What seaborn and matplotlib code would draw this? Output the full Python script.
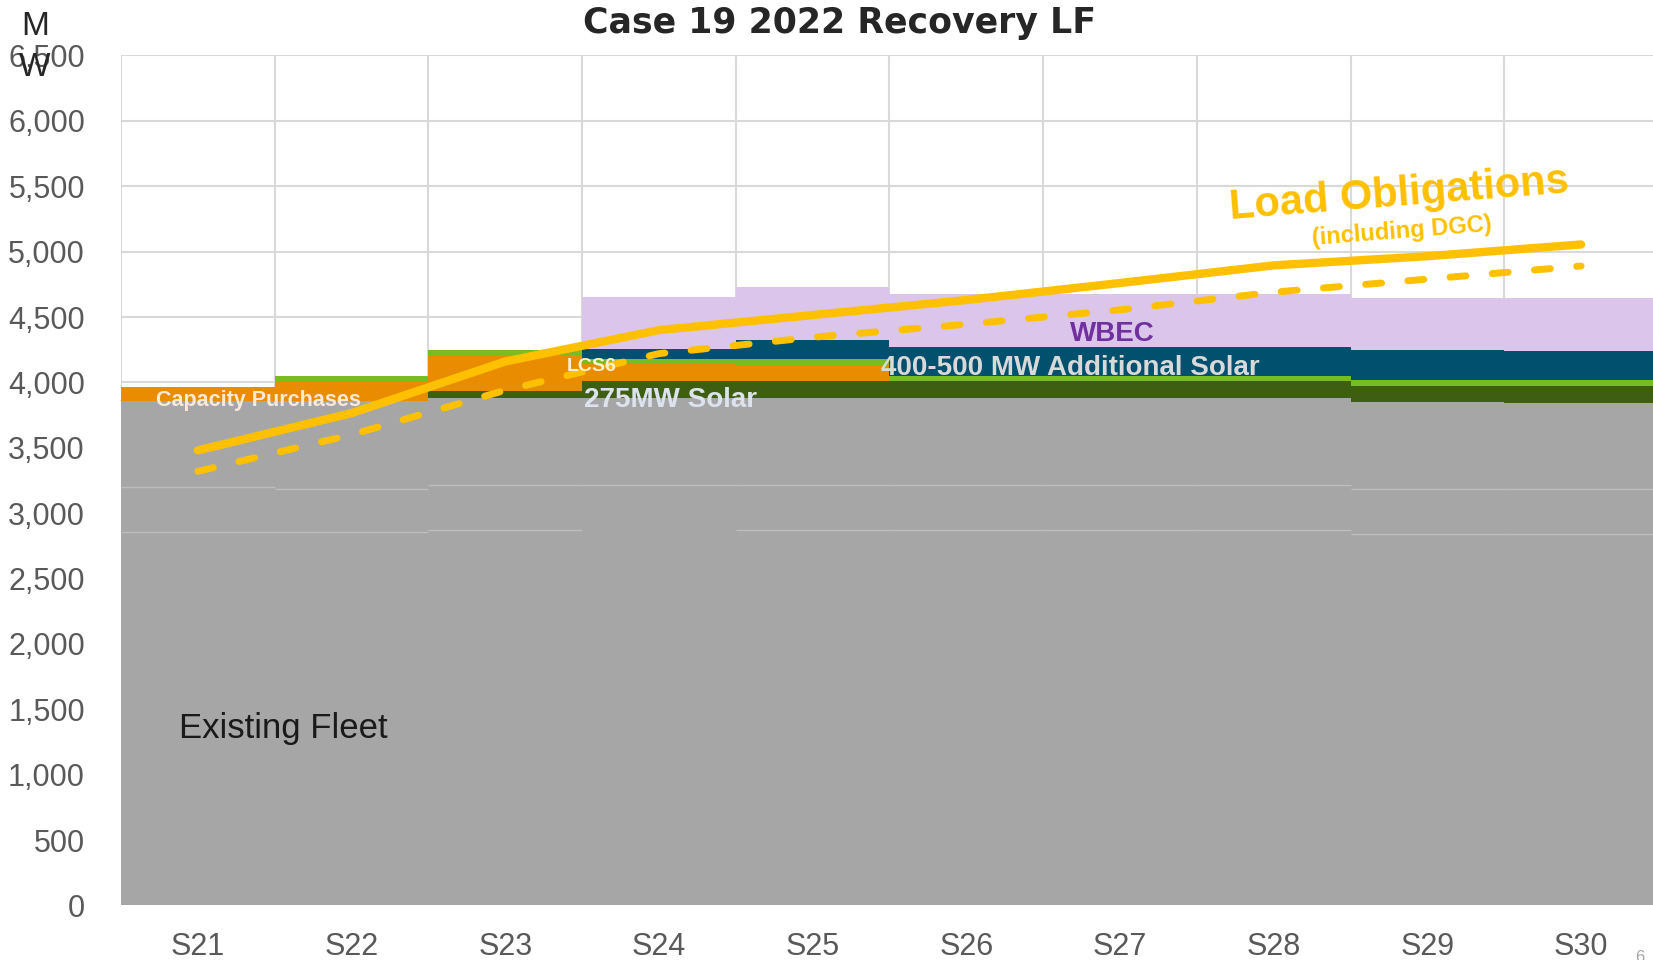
import numpy as np
import matplotlib
matplotlib.use("Agg")
import matplotlib.pyplot as plt
import seaborn as sns

# planning years and stacked resources (MW)
seasons = ["S21", "S22", "S23", "S24", "S25", "S26", "S27", "S28", "S29", "S30"]
fleet_base = [2856, 2856, 2868, 0, 2868, 2868, 2868, 2868, 2840, 2840]
fleet_mid = [341, 330, 344, 3212, 344, 344, 344, 344, 345, 345]
fleet_top = [663, 674, 668, 668, 666, 666, 666, 666, 662, 658]
solar_275 = [0, 0, 56, 130, 130, 130, 130, 130, 128, 128]
capacity_purchases = [102, 148, 275, 128, 128, 0, 0, 0, 0, 0]
lcs6 = [0, 38, 38, 43, 43, 44, 44, 44, 46, 46]
additional_solar = [0, 0, 0, 71, 148, 219, 219, 219, 224, 224]
wbec = [0, 0, 0, 404, 404, 406, 406, 406, 401, 401]

# load obligation lines (MW)
load_obligations = [3480, 3765, 4160, 4400, 4515, 4630, 4760, 4895, 4965, 5055]
load_dashed = [3320, 3600, 3940, 4220, 4345, 4445, 4555, 4690, 4790, 4890]

GRAY = "#a6a6a6"
YELLOW = "#ffc000"


def main():
    sns.set_style("white")
    plt.rcParams["font.family"] = ["Liberation Sans", "DejaVu Sans"]

    fig = plt.figure(figsize=(16.53, 9.6), dpi=100)
    ax = fig.add_axes([0.0732, 0.0568, 0.9298, 0.8854])

    layers = [
        (fleet_base, GRAY),
        (fleet_mid, GRAY),
        (fleet_top, GRAY),
        (solar_275, "#3e5e12"),
        (capacity_purchases, "#ea8c00"),
        (lcs6, "#77bc22"),
        (additional_solar, "#00506e"),
        (wbec, "#dbc5ea"),
    ]
    bottom = np.zeros(len(seasons))
    for vals, col in layers:
        vals = np.asarray(vals, dtype=float)
        sns.barplot(x=seasons, y=vals, bottom=bottom, color=col, saturation=1,
                    width=1.0, linewidth=0, ax=ax, zorder=2)
        bottom = bottom + vals

    # faint seams between the existing fleet blocks
    xs = np.arange(len(seasons))
    seam1 = np.asarray(fleet_base, dtype=float)
    seam2 = seam1 + np.asarray(fleet_mid, dtype=float)
    keep = seam1 > 0
    ax.hlines(seam1[keep], xs[keep] - 0.5, xs[keep] + 0.5, color="#bdbdbd", lw=1, zorder=3)
    ax.hlines(seam2, xs - 0.5, xs + 0.5, color="#bdbdbd", lw=1, zorder=3)

    # load obligation lines
    sns.lineplot(x=xs, y=load_obligations, color=YELLOW, lw=6, ax=ax, zorder=5,
                 solid_capstyle="round", solid_joinstyle="round")
    sns.lineplot(x=xs, y=load_dashed, color=YELLOW, lw=5, ax=ax, zorder=5,
                 dashes=False, linestyle=(0, (2.3, 3.8)), dash_capstyle="round")

    # axes, grid
    ax.set_xlim(-0.5, 9.5)
    ax.set_ylim(0, 6500)
    ax.set_yticks(np.arange(0, 6501, 500))
    ax.set_yticklabels([f"{v:,}" for v in range(0, 6501, 500)])
    ax.set_xticks(xs, seasons)
    ax.set_xticks(np.arange(-0.5, 10, 1), minor=True)
    ax.set_axisbelow(True)
    ax.grid(axis="y", color="#d9d9d9", lw=1.5)
    ax.grid(axis="x", which="minor", color="#d9d9d9", lw=1.5)
    ax.grid(axis="x", which="major", visible=False)
    for s in ax.spines.values():
        s.set_visible(False)
    ax.tick_params(axis="y", length=0, pad=26, labelsize=22, labelcolor="#595959")
    ax.tick_params(axis="x", which="major", length=0, pad=19, labelsize=22, labelcolor="#595959")
    ax.tick_params(axis="x", which="minor", length=0)
    ax.set_xlabel("")
    ax.set_ylabel("")

    # labels on the chart
    ax.text(-0.12, 1355, "Existing Fleet", fontsize=25, color="#1a1a1a", va="center", ha="left", zorder=6)
    ax.text(-0.27, 3862, "Capacity Purchases", fontsize=15.5, fontweight="bold", color="#fde9d9",
            va="center", ha="left", zorder=6)
    ax.text(2.40, 4120, "LCS6", fontsize=14, fontweight="bold", color="#fff2cc",
            va="center", ha="left", zorder=6)
    ax.text(2.51, 3867, "275MW Solar", fontsize=20, fontweight="bold", color="#dde3ee",
            va="center", ha="left", zorder=6)
    ax.text(4.445, 4113, "400-500 MW Additional Solar", fontsize=20, fontweight="bold", color="#d9d9d9",
            va="center", ha="left", zorder=6)
    ax.text(5.95, 4372, "WBEC", fontsize=20, fontweight="bold", color="#7030a0",
            va="center", ha="center", zorder=6)
    ax.text(7.815, 5437, "Load Obligations", fontsize=30, fontweight="bold", color=YELLOW,
            va="center", ha="center", rotation=4.5, zorder=6)
    ax.text(7.834, 5152, "(including DGC)", fontsize=17, fontweight="bold", color=YELLOW,
            va="center", ha="center", rotation=4.5, zorder=6)

    fig.text(0.508, 0.976, "Case 19 2022 Recovery LF", fontsize=25, fontweight="bold",
             family="DejaVu Sans", ha="center", va="center")
    fig.text(0.021, 0.951, "M\nW", fontsize=24, ha="center", va="center", linespacing=1.4)
    fig.text(0.992, 0.003, "6", fontsize=12, color="#a6a6a6", ha="center", va="center")

    fig.savefig("out.png", dpi=100)


if __name__ == "__main__":
    main()
